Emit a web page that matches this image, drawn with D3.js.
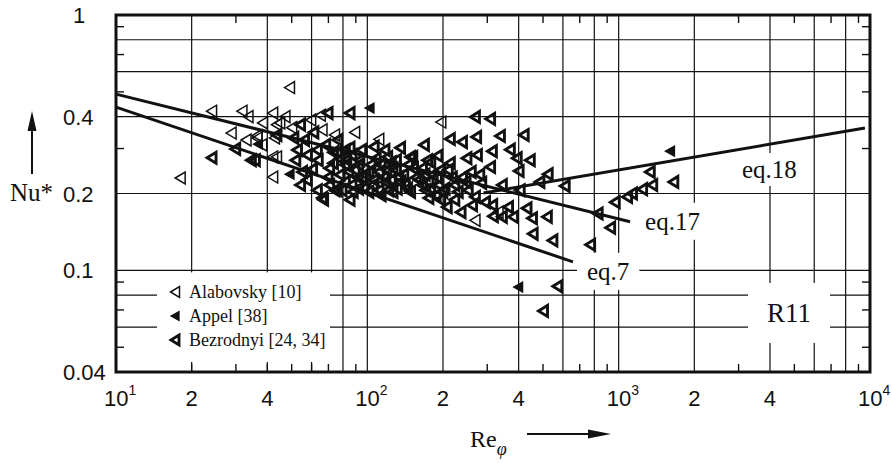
<!DOCTYPE html>
<html><head><meta charset="utf-8">
<script src="https://cdn.jsdelivr.net/npm/d3@7"></script>
<style>body{margin:0;background:#fff}</style>
</head><body>
<script>
// ---- data ----
const xGridVals = [20,40,60,80,100,200,400,600,800,1000,2000,4000,6000,8000];
const yGridVals = [0.06,0.08,0.1,0.2,0.4,0.6,0.8];
const xMinorVals = [30,50,70,90,300,500,700,900,3000,5000,7000,9000];
const yMinorVals = [0.05,0.07,0.09,0.3,0.5,0.7,0.9];
const xTickVals = [10,20,40,100,200,400,1000,2000,4000,10000];
const xTickLabels = ["10^1","2","4","10^2","2","4","10^3","2","4","10^4"];
const yTickVals = [0.04,0.1,0.2,0.4,1];
const yTickLabels = ["0.04","0.1","0.2","0.4","1"];

const eq7 = [[10,0.436],[658,0.108]];
const eq17 = [[10,0.49],[1110,0.155]];
const eq18 = [[290,0.201],[9550,0.361]];

const alabovsky = [[49,0.52],[24,0.42],[31.7,0.42],[33.5,0.40],[28.7,0.345],[32.9,0.324],[36.4,0.337],
 [18,0.23],[42,0.278],[42,0.232],[42,0.413],[47,0.40],[43.5,0.372],[50,0.362],[38.3,0.378],[44.8,0.378],
 [59.5,0.388],[65,0.405],[66,0.355],[74,0.339],[89,0.347],[111,0.326],[36.4,0.33],[42.7,0.33],[38,0.31],
 [43.5,0.278],[196,0.381],[268,0.157],[331,0.169]];
const appel = [[102,0.432],[398,0.086],[36.7,0.312],[49,0.238],[1600,0.293]];
const bezrodnyi = [[24,0.276],[29.8,0.299],[34.4,0.270],[43.5,0.339],[50.8,0.33],[52.5,0.296],[35.7,0.270],
 [57.5,0.283],[63,0.296],[55,0.243],[57.5,0.226],[63,0.206],[66,0.192],[74,0.206],[75.5,0.29],[85,0.302],
 [106,0.305],[120,0.278],[148,0.278],[178,0.265],[135,0.302],[168,0.31],[69.5,0.413],[85,0.413],[268,0.399],
 [308,0.392],[213,0.327],[238,0.318],[271,0.333],[337,0.336],[419,0.339],[151,0.278],[173,0.27],[190,0.281],
 [213,0.263],[248,0.275],[273,0.283],[313,0.293],[369,0.297],[393,0.275],[443,0.27],[308,0.254],[400,0.245],
 [522,0.238],[484,0.222],[610,0.214],[284,0.22],[343,0.216],[404,0.206],[268,0.194],[294,0.185],[314,0.18],
 [363,0.177],[430,0.175],[343,0.162],[380,0.162],[452,0.16],[518,0.162],[235,0.169],[207,0.177],[316,0.163],
 [455,0.139],[545,0.131],[770,0.126],[570,0.0866],[500,0.0694],[825,0.167],[925,0.147],[965,0.185],
 [1080,0.194],[1130,0.20],[1240,0.208],[1360,0.216],[1330,0.243],[1650,0.222],[66.7,0.189],[75.5,0.206],
 [87.5,0.203],[77.6,0.274],[84,0.244],[86.5,0.216],[92,0.259],[98,0.237],[105,0.216],[113,0.259],[116,0.231],
 [121,0.206],[130,0.247],[135,0.222],[145,0.259],[148,0.203],[156,0.231],[165,0.251],[175,0.222],[187,0.197],
 [195,0.247],[203,0.209],[217,0.231],[229,0.203],[246,0.222],[258,0.243],[261,0.18],[279,0.237],[195,0.189],
 [175,0.192],[222,0.189],[51.7,0.27],[54,0.216],[56,0.324],[60.3,0.249],[63.5,0.27],[68,0.31],[69.5,0.231],
 [73,0.263],[76,0.324],[81.4,0.296],[54,0.372],[61,0.347],[81.4,0.259],[89,0.247],[95,0.231],[103,0.259],
 [111,0.243],[118,0.222],[126,0.251],[133,0.232],[141,0.216],[160,0.226],[170,0.206],[182,0.237],[192,0.216],
 [81.4,0.222],[92,0.209],[101,0.203],[113,0.197],[126,0.203],[93,0.27],[108,0.274],[124,0.265],[77.6,0.237],
 [70.5,0.251],[70.5,0.216],[85,0.189],
 [73,0.29],[79,0.206],[82.5,0.27],[91.5,0.231],[96.5,0.209],[101,0.243],[106,0.226],[111,0.206],[119,0.247],
 [124,0.226],[131,0.209],[139,0.237],[144,0.209],[152,0.251],[165,0.216],[169,0.237],[178,0.209],[189,0.231],
 [199,0.203],[209,0.247],[222,0.216],[238,0.231],[251,0.206],[86.5,0.283],[94.5,0.296],[117,0.296],[130,0.27]];

const legendItems = ["Alabovsky [10]","Appel [38]","Bezrodnyi [24, 34]"];
const eqLabels = ["eq.7","eq.17","eq.18"];

// ---- drawing ----
const W = 892, H = 463;
const SERIF = "'Liberation Serif','Times New Roman',serif";
const SANS = "'Liberation Sans',Arial,sans-serif";
const svg = d3.select("body").append("svg").attr("width", W).attr("height", H);
svg.append("rect").attr("width", W).attr("height", H).attr("fill", "#fff");

const L = 116, R = 870, T = 15, B = 372;
const x = d3.scaleLog().domain([10, 1e4]).range([L, R]);
const y = d3.scaleLog().domain([0.04, 1]).range([B, T]);
const ink = "#111";

const grid = svg.append("g").attr("stroke", ink).attr("stroke-width", 1.2);
grid.selectAll(".vg").data(xGridVals).join("line")
  .attr("x1", d => x(d)).attr("x2", d => x(d)).attr("y1", T).attr("y2", B);
grid.selectAll(".hg").data(yGridVals).join("line")
  .attr("x1", L).attr("x2", R).attr("y1", d => y(d)).attr("y2", d => y(d));

const ko = svg.append("g").attr("fill", "#fff");
ko.append("rect").attr("x", 157).attr("y", y(0.1) + 2).attr("width", 173).attr("height", 362 - y(0.1) - 2);

const tk = svg.append("g").attr("stroke", ink).attr("stroke-width", 1.4);
const TL = 8;
tk.selectAll(".tt").data(xMinorVals).join("line").attr("x1", d => x(d)).attr("x2", d => x(d)).attr("y1", T).attr("y2", T + TL);
tk.selectAll(".bt").data(xMinorVals).join("line").attr("x1", d => x(d)).attr("x2", d => x(d)).attr("y1", B).attr("y2", B - TL);
tk.selectAll(".lt").data(yMinorVals).join("line").attr("x1", L).attr("x2", L + TL).attr("y1", d => y(d)).attr("y2", d => y(d));
tk.selectAll(".rt").data(yMinorVals).join("line").attr("x1", R).attr("x2", R - TL).attr("y1", d => y(d)).attr("y2", d => y(d));
tk.selectAll(".bs").data(xGridVals.filter(v => x(v) > 157 && x(v) < 330)).join("line")
  .attr("x1", d => x(d)).attr("x2", d => x(d)).attr("y1", B).attr("y2", B - TL);

svg.append("rect").attr("x", L).attr("y", T).attr("width", R - L).attr("height", B - T)
  .attr("fill", "none").attr("stroke", ink).attr("stroke-width", 3);

const lineGen = d3.line().x(d => x(d[0])).y(d => y(d[1]));
[eq7, eq17, eq18].forEach(ln => {
  svg.append("path").attr("d", lineGen(ln)).attr("fill", "none").attr("stroke", ink).attr("stroke-width", 3);
});

const tri = (w, h) => `M${-w/2},0L${w/2},${-h/2}L${w/2},${h/2}Z`;
const mk = svg.append("g");
function drawSeries(data, style) {
  mk.append("g").selectAll("path").data(data).join("path")
    .attr("transform", d => `translate(${x(d[0])},${y(d[1])})`)
    .attr("d", tri(style.w, style.h))
    .attr("fill", style.fill).attr("stroke", ink).attr("stroke-width", style.sw)
    .attr("stroke-linejoin", "miter");
}
const styles = [
  {w: 10, h: 12, fill: "none", sw: 1.5},
  {w: 9, h: 10, fill: ink, sw: 1.3},
  {w: 9, h: 11, fill: "none", sw: 2.9}
];
drawSeries(bezrodnyi, styles[2]);
drawSeries(alabovsky, styles[0]);
drawSeries(appel, styles[1]);

function label(txt, tx, ty, size, padX, padY) {
  const t = svg.append("text").attr("x", tx).attr("y", ty).attr("font-family", SERIF)
    .attr("font-size", size).attr("fill", ink).text(txt);
  const b = t.node().getBBox();
  ko.append("rect").attr("x", b.x - padX).attr("y", b.y - padY + 3)
    .attr("width", b.width + 2 * padX).attr("height", b.height + 2 * padY - 6);
  return t;
}
label(eqLabels[0], x(eq7[1][0]) + 14, y(eq7[1][1]) + 18, 25, 10, 8);
label(eqLabels[1], x(eq17[1][0]) + 15, y(eq17[1][1]) + 8, 25, 10, 8);
label(eqLabels[2], 742, 178, 25, 8, 6);
label("R11", 767, 322, 27, 19, 18);

const legG = svg.append("g");
legendItems.forEach((name, i) => {
  const ly = 292 + i * 24;
  const st = styles[i];
  legG.append("path").attr("transform", `translate(175,${ly})`).attr("d", tri(st.w - 1, st.h - 1))
    .attr("fill", st.fill).attr("stroke", ink).attr("stroke-width", st.sw);
  legG.append("text").attr("x", 189).attr("y", ly + 6).attr("font-family", SERIF)
    .attr("font-size", 18).attr("fill", ink).text(name);
});

yTickVals.forEach((v, i) => {
  const lab = yTickLabels[i];
  const t = svg.append("text").attr("font-family", SANS).attr("font-size", 22).attr("fill", ink)
    .attr("y", y(v) + 8).text(lab);
  if (lab === "1") t.attr("x", 79).attr("text-anchor", "middle");
  else t.attr("x", 63);
});
xTickVals.forEach((v, i) => {
  const lab = xTickLabels[i];
  const t = svg.append("text").attr("font-family", SANS).attr("font-size", 22).attr("fill", ink).attr("y", 406);
  if (lab.startsWith("10^")) {
    t.attr("x", x(v) - 12).text("10");
    t.append("tspan").attr("dy", -11).attr("font-size", 14).text(lab.slice(3));
  } else {
    t.attr("x", x(v)).attr("text-anchor", "middle").text(lab);
  }
});

svg.append("text").attr("x", 10).attr("y", 201).attr("font-family", SERIF).attr("font-size", 25)
  .attr("fill", ink).text("Nu*");
svg.append("line").attr("x1", 32).attr("x2", 32).attr("y1", 174).attr("y2", 128).attr("stroke", ink).attr("stroke-width", 2);
svg.append("path").attr("d", "M32,111L27.5,131L36.5,131Z").attr("fill", ink);

const re = svg.append("text").attr("x", 470).attr("y", 447).attr("font-family", SERIF).attr("font-size", 24)
  .attr("fill", ink).text("Re");
re.append("tspan").attr("dy", 8).attr("font-size", 18).attr("font-style", "italic").text("φ");
svg.append("line").attr("x1", 527).attr("x2", 592).attr("y1", 434).attr("y2", 434).attr("stroke", ink).attr("stroke-width", 2);
svg.append("path").attr("d", "M611,434L588,429.5L588,438.5Z").attr("fill", ink);
</script>
</body></html>
